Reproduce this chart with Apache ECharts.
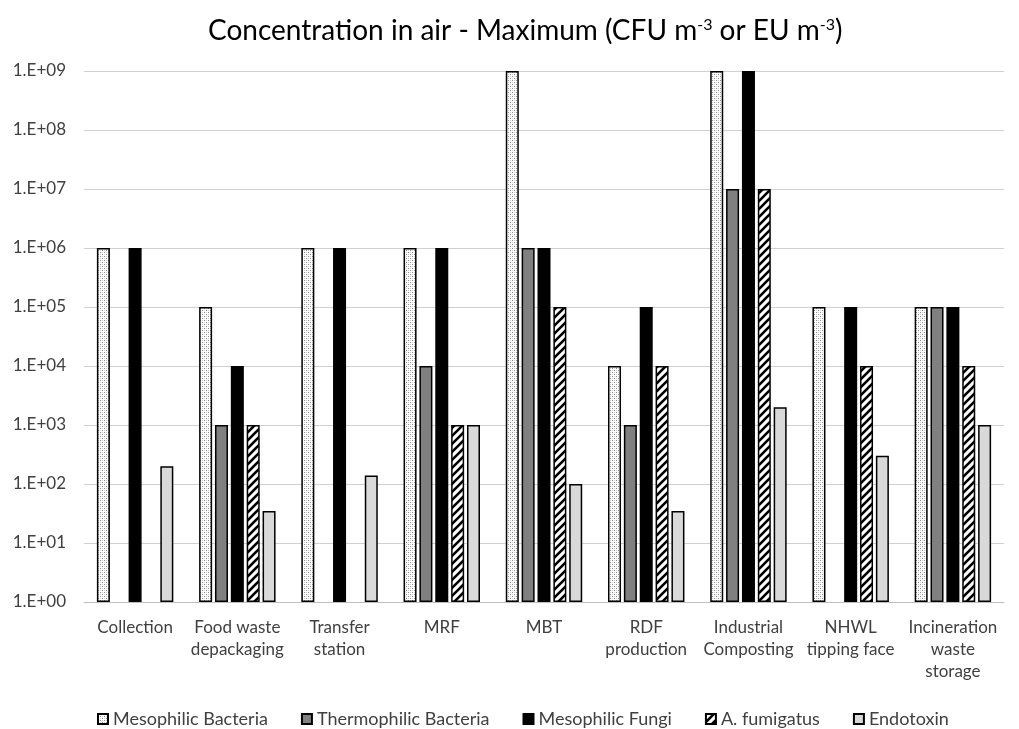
<!DOCTYPE html>
<html><head><meta charset="utf-8">
<script src="https://cdn.jsdelivr.net/npm/echarts@6/dist/echarts.min.js"></script>
<style>html,body{margin:0;padding:0;background:#fff}#c{width:1019px;height:729px}</style>
</head><body><div id="c"></div>
<script>
const categories = ['Collection','Food waste\ndepackaging','Transfer\nstation','MRF','MBT','RDF\nproduction','Industrial\nComposting','NHWL\ntipping face','Incineration\nwaste\nstorage'];
const seriesNames = ['Mesophilic Bacteria','Thermophilic Bacteria','Mesophilic Fungi','A. fumigatus','Endotoxin'];
const mesophilicBacteria = [1e6, 1e5, 1e6, 1e6, 1e9, 1e4, 1e9, 1e5, 1e5];
const thermophilicBacteria = [null, 1e3, null, 1e4, 1e6, 1e3, 1e7, null, 1e5];
const mesophilicFungi = [1e6, 1e4, 1e6, 1e6, 1e6, 1e5, 1e9, 1e5, 1e5];
const aFumigatus = [null, 1e3, null, 1e3, 1e5, 1e4, 1e7, 1e4, 1e4];
const endotoxin = [200, 35, 140, 1e3, 100, 35, 2000, 300, 1e3];
const yTicks = ['1.E+00','1.E+01','1.E+02','1.E+03','1.E+04','1.E+05','1.E+06','1.E+07','1.E+08','1.E+09'];

function dotPattern(){
  const c = document.createElement('canvas'); c.width = 4; c.height = 4;
  const g = c.getContext('2d');
  g.fillStyle = '#ffffff'; g.fillRect(0,0,4,4);
  g.fillStyle = '#8a8a8a';
  g.fillRect(0,0,1,1); g.fillRect(2,2,1,1);
  g.fillStyle = '#cfcfcf';
  g.fillRect(2,0,1,1); g.fillRect(0,2,1,1);
  return c;
}
function stripePattern(){
  const s = 8;
  const c = document.createElement('canvas'); c.width = s; c.height = s;
  const g = c.getContext('2d');
  g.fillStyle = '#ffffff'; g.fillRect(0,0,s,s);
  g.strokeStyle = '#000000'; g.lineWidth = 2.6;
  g.beginPath();
  g.moveTo(-2, s+2); g.lineTo(s+2, -2);
  g.moveTo(-2, 2); g.lineTo(2, -2);
  g.moveTo(s-2, s+2); g.lineTo(s+2, s-2);
  g.stroke();
  return c;
}
const fills = [
  {image: dotPattern(), repeat: 'repeat'},
  '#808080',
  '#000000',
  {image: stripePattern(), repeat: 'repeat'},
  '#d9d9d9'
];
const dataArr = [mesophilicBacteria, thermophilicBacteria, mesophilicFungi, aFumigatus, endotoxin];

const FONT = 'Lato, "Open Sans", sans-serif';
const chart = echarts.init(document.getElementById('c'));
chart.setOption({
  animation: false,
  title: {
    text: 'Concentration in air - Maximum (CFU m{sup|-3} or EU m{sup|-3})',
    left: 203, top: 12,
    textStyle: {fontFamily: FONT, fontWeight: 'normal', fontSize: 28, color: '#000',
      rich: {sup: {fontFamily: FONT, fontSize: 16, verticalAlign: 'top', padding: [0,0,12,0], color: '#000'}}}
  },
  legend: {
    top: 709, left: 97, itemWidth: 10, itemHeight: 10, itemGap: 33,
    padding: 0, icon: 'rect',
    textStyle: {fontFamily: FONT, fontSize: 18, color: '#404040', lineHeight: 20},
    data: seriesNames
  },
  grid: {left: 84, right: 15, top: 71, bottom: 127},
  xAxis: {
    type: 'category', data: categories,
    axisLine: {lineStyle: {color: '#bfbfbf'}},
    axisTick: {show: false},
    axisLabel: {fontFamily: FONT, fontSize: 17, color: '#404040', lineHeight: 22, interval: 0, margin: 15}
  },
  yAxis: {
    type: 'log', logBase: 10, min: 1, max: 1e9,
    axisLine: {show: false}, axisTick: {show: false},
    splitLine: {lineStyle: {color: '#d0d0d0', width: 1}},
    axisLabel: {fontFamily: FONT, fontSize: 17, color: '#404040', margin: 18,
      formatter: v => yTicks[Math.round(Math.log10(v))]}
  },
  series: seriesNames.map((n, i) => ({
    name: n, type: 'bar', data: dataArr[i],
    barWidth: 13, barGap: '22%',
    itemStyle: {color: fills[i], borderColor: '#000', borderWidth: 1.5}
  }))
});
</script></body></html>
